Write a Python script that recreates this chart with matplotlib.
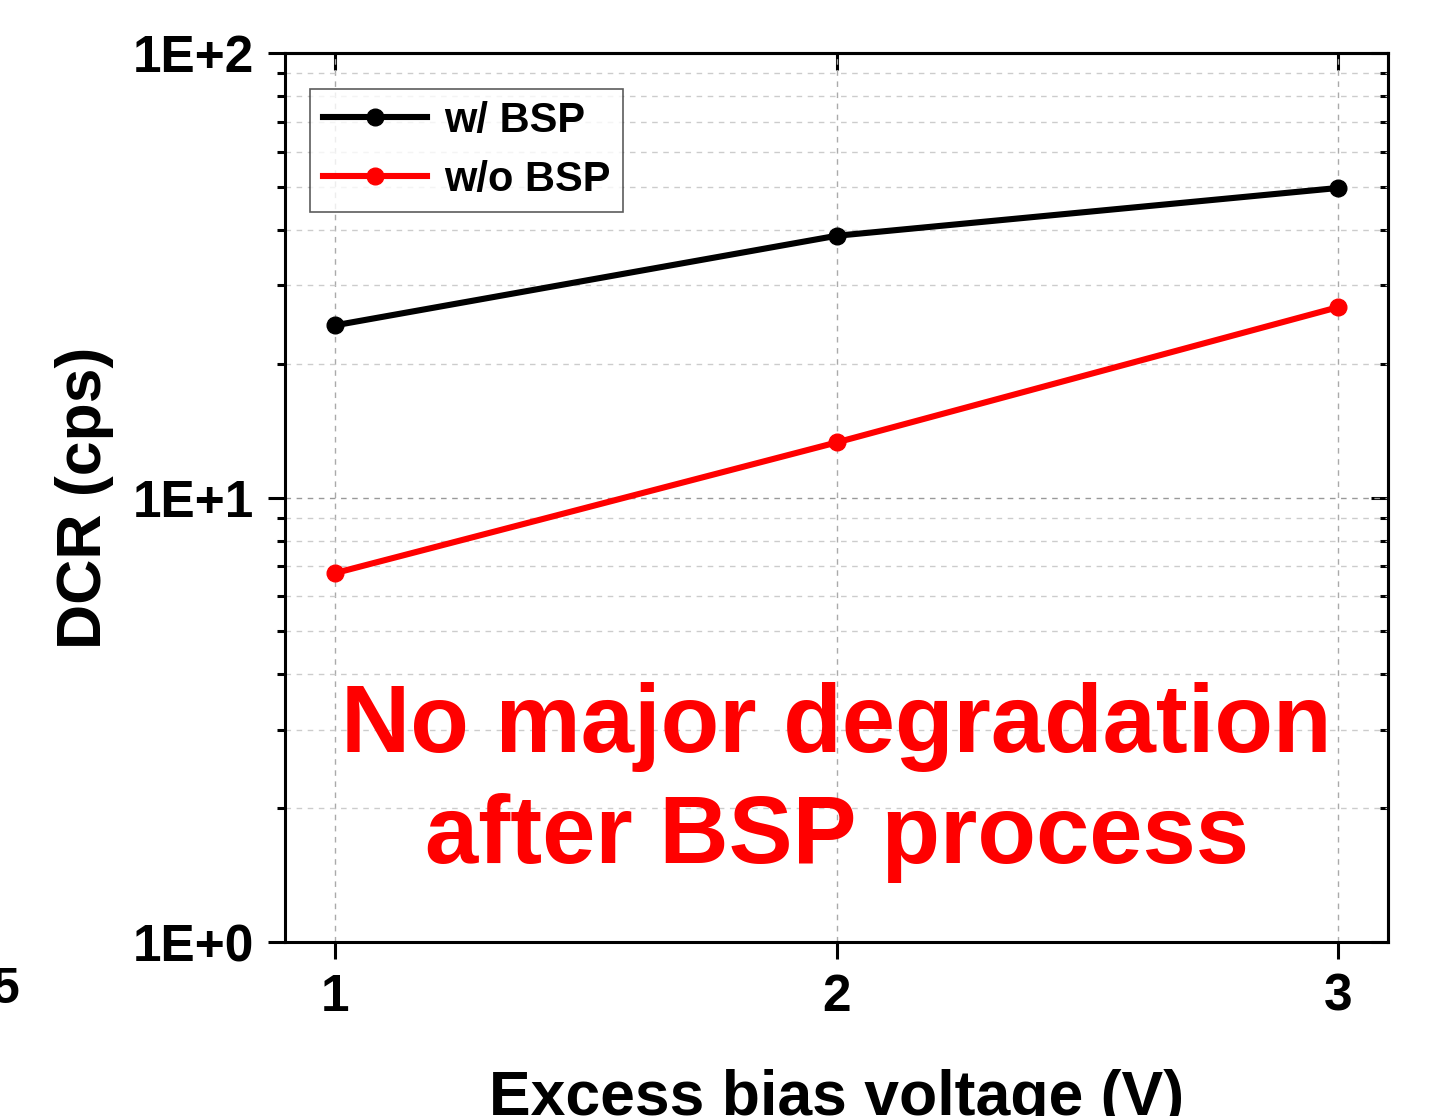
import matplotlib.pyplot as plt
import numpy as np

plt.rcParams['font.family'] = ['Liberation Sans', 'DejaVu Sans']
plt.rcParams['font.weight'] = 'bold'

# data
bias = [1, 2, 3]
dcr_with = [24.4, 38.8, 49.7]
dcr_without = [6.76, 13.3, 26.8]
labels = ['w/ BSP', 'w/o BSP']

fig = plt.figure(figsize=(14.34, 11.16), dpi=100)
ax = fig.add_axes([0.1987, 0.1559, 0.7693, 0.7966])

ax.plot(bias, dcr_with, '-o', color='black', lw=4.4, ms=12, label=labels[0])
ax.plot(bias, dcr_without, '-o', color='#ff0000', lw=4.4, ms=12, label=labels[1])

ax.set_yscale('log')
ax.set_xlim(0.9, 3.1)
ax.set_ylim(1, 100)
ax.set_xticks(bias)
ax.set_yticks([1, 10, 100])
ax.set_yticklabels(['1E+0', '1E+1', '1E+2'])
ax.set_xticklabels(['1', '2', '3'])

ax.grid(True, which='major', axis='x', ls=(0, (4, 4)), color='#aaaaaa', lw=1)
ax.grid(True, which='both', axis='y', ls=(0, (4, 4)), color='#cccccc', lw=1)
ax.grid(True, which='major', axis='y', ls=(0, (4, 4)), color='#999999', lw=1)

for s in ax.spines.values():
    s.set_linewidth(2.2)

ax.tick_params(which='major', direction='out', length=12, width=2.2,
               labelsize=37, pad=10)
ax.tick_params(which='minor', direction='out', length=6, width=2.2)
ax.tick_params(axis='x', which='minor', bottom=False)

# inward ticks on top and right
top = ax.secondary_xaxis('top')
top.set_xticks(bias)
top.tick_params(direction='in', length=12, width=2.2, labeltop=False)
right = ax.secondary_yaxis('right')
right.set_yticks([1, 10, 100])
right.tick_params(which='major', direction='in', length=12, width=2.2, labelright=False)
right.tick_params(which='minor', direction='in', length=6, width=2.2, labelright=False)
for s in list(top.spines.values()) + list(right.spines.values()):
    s.set_linewidth(2.2)

ax.set_ylabel('DCR (cps)', fontsize=45, fontweight='bold', labelpad=14)
ax.set_xlabel('Excess bias voltage (V)', fontsize=45, fontweight='bold', labelpad=34)

ax.text(2, 2.28, 'No major degradation\nafter BSP process', color='#ff0000',
        fontsize=69, fontweight='bold', ha='center', va='center', linespacing=1.3)

leg = ax.legend(loc='upper left', bbox_to_anchor=(0.023, 0.96), fontsize=30,
                frameon=True, fancybox=False, edgecolor='#333333',
                handlelength=2.5, borderpad=0.3, labelspacing=0.45,
                handletextpad=0.4, borderaxespad=0)
leg.get_frame().set_linewidth(1.2)

fig.text(19 / 1434, 1 - 990 / 1116, '5', fontsize=36, fontweight='bold',
         ha='right', va='center')

fig.savefig('out.png', dpi=100)
